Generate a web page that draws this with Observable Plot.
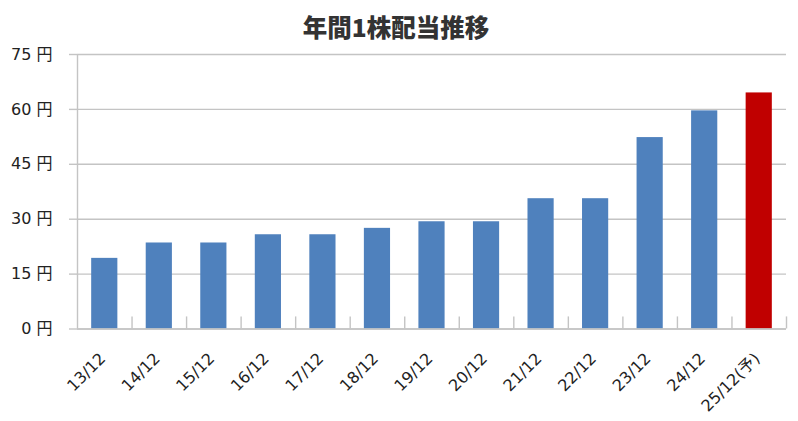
<!DOCTYPE html>
<html>
<head>
<meta charset="utf-8">
<script src="https://cdn.jsdelivr.net/npm/d3@7"></script>
<script src="https://cdn.jsdelivr.net/npm/@observablehq/plot@0.6"></script>
<style>
  body { margin: 0; background: #fff; }
  #title {
    height: 45px; line-height: 54px; text-align: center;
    font-family: "Noto Sans CJK JP", sans-serif; font-weight: 900;
    font-size: 24.5px; color: #333; padding-right: 6px;
  }
  #chart svg { display: block; }
  #chart svg text { font-family: "DejaVu Sans", "Noto Sans CJK JP", sans-serif !important; font-size: 16px !important; }
</style>
</head>
<body>
<div id="title">年間1株配当推移</div>
<div id="chart"></div>
<script>
const categories = ["13/12","14/12","15/12","16/12","17/12","18/12","19/12","20/12","21/12","22/12","23/12","24/12","25/12(予)"];
const dividends  = [19.3, 23.5, 23.5, 25.75, 25.75, 27.5, 29.3, 29.3, 35.6, 35.6, 52.3, 59.6, 64.5];
const isForecast = [false,false,false,false,false,false,false,false,false,false,false,false,true];
const yTicks = [0, 15, 30, 45, 60, 75];

const data = categories.map((c, i) => ({cat: c, value: dividends[i], forecast: isForecast[i]}));

const W = 798, H = 376, mL = 77, mR = 12, mT = 9, mB = 92.5;
const step = (W - mL - mR) / categories.length;
const gray = "#c4c4c4";

const chart = Plot.plot({
  width: W, height: H,
  marginLeft: mL, marginRight: mR, marginTop: mT, marginBottom: mB,
  style: {background: "#fff"},
  x: {domain: categories, paddingInner: 0.52, paddingOuter: 0.26, round: false, label: null},
  y: {domain: [0, 75], label: null},
  marks: [
    Plot.gridY(yTicks, {stroke: gray, strokeOpacity: 1, strokeWidth: 1.4}),
    Plot.axisY(yTicks, {tickSize: 8, tickPadding: 17, tickFormat: d => d + " 円",
      stroke: gray, strokeWidth: 1.4, fill: "#222", label: null}),
    Plot.ruleX([categories[0]], {dx: -step / 2, y1: 0, y2: 75, stroke: gray, strokeWidth: 1.4}),
    Plot.ruleX(categories, {dx: step / 2, y1: 0, y2: 3.3, stroke: gray, strokeWidth: 1.4}),
    Plot.barY(data, {x: "cat", y: "value", fill: d => d.forecast ? "#c00000" : "#4f81bd"}),
    Plot.ruleY([0], {stroke: gray, strokeWidth: 1.4}),
    Plot.axisX({tickSize: 0, tickRotate: -45, tickPadding: 12, dx: -2, dy: 15, fill: "#222", label: null})
  ]
});
document.getElementById("chart").appendChild(chart);
</script>
</body>
</html>
